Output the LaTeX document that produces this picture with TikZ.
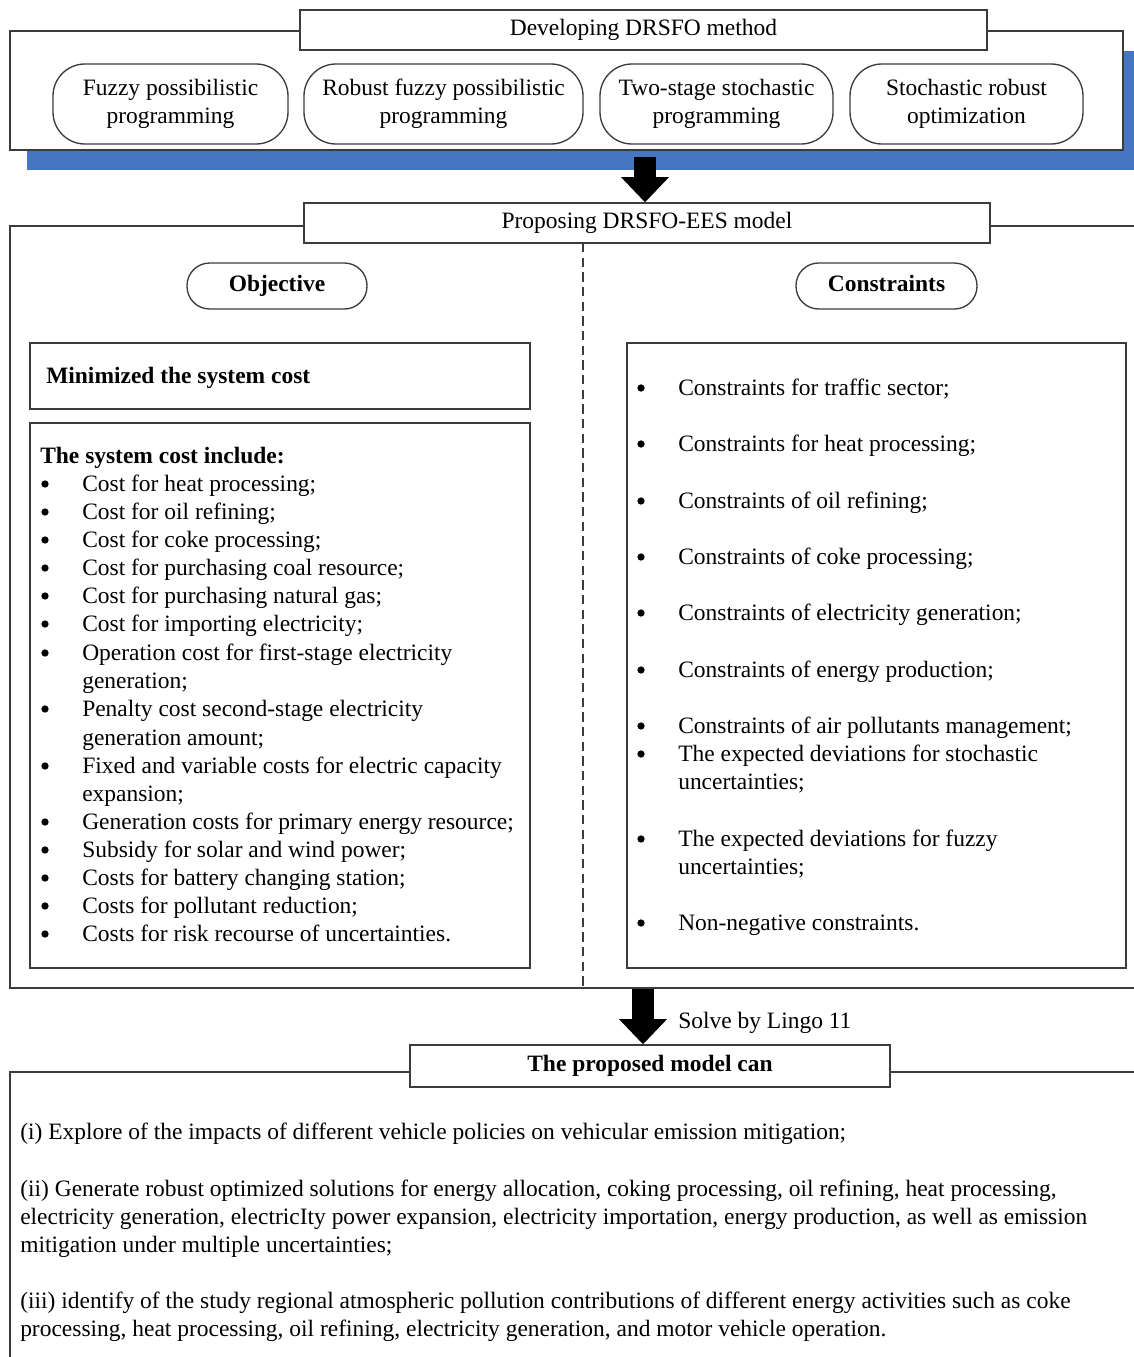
\documentclass[tikz,border=0pt]{standalone}
\usepackage{fontspec}
\setmainfont{Liberation Serif}
\usetikzlibrary{arrows.meta}
\definecolor{shadowblue}{RGB}{70,117,193}
\definecolor{lc}{RGB}{60,60,60}
\newcommand\mainfs{\fontsize{17.6}{21}\selectfont}
\tikzset{
  box/.style={draw=lc, line width=1pt, fill=white, inner sep=0pt, align=center},
  pill/.style={box, rounded corners=24pt},
  smallpill/.style={box, rounded corners=17pt, font=\mainfs\bfseries, text height=12pt, text depth=4pt},
  onetext/.style={text height=12pt, text depth=4pt},
  txt/.style={anchor=base west, inner sep=0pt},
  btxt/.style={txt, font=\mainfs\bfseries},
  bul/.style={circle, fill=black, inner sep=0pt, minimum size=5.5pt},
  frame/.style={draw=lc, line width=1pt},
  bigarrow/.style={line width=16pt, -{Triangle[width=35pt,length=19pt]}},
}
\begin{document}
\begin{tikzpicture}[x=0.75pt,y=-0.75pt,font=\mainfs]
\useasboundingbox (0,0) rectangle (1134,1357);
\clip (0,0) rectangle (1134,1357);
\fill[white] (0,0) rectangle (1134,1357);

% ---- Stage 1: method
\fill[shadowblue] (27,51) rectangle (1140,170);
\node[box, minimum width=834.75pt, minimum height=89.25pt] (ob1) at (566.5,90.5) {};
\node[box, onetext, minimum width=515.25pt, minimum height=30pt] (h1) at (643.5,30) {Developing DRSFO method};
\node[pill, minimum width=176.25pt, minimum height=60pt] (m1) at (170.5,104) {Fuzzy possibilistic\\programming};
\node[pill, minimum width=209.25pt, minimum height=60pt] (m2) at (443.5,104) {Robust fuzzy possibilistic\\programming};
\node[pill, minimum width=174.75pt, minimum height=60pt] (m3) at (716.5,104) {Two-stage stochastic\\programming};
\node[pill, minimum width=174.75pt, minimum height=60pt] (m4) at (966.5,104) {Stochastic robust\\optimization};

% ---- Stage 2: model
\draw[frame] (1140,226) -- (10,226) -- (10,988) -- (1140,988);
\node[box, onetext, minimum width=514.5pt, minimum height=30pt] (h2) at (647,223) {Proposing DRSFO-EES model};
\coordinate (a1s) at (645,157);
\draw[bigarrow] (a1s) -- (a1s |- h2.north);

\coordinate (d0) at (583,243);
\coordinate (d1) at (583,988);
\coordinate (d2) at (608,988);
\draw[lc, line width=1pt, dash pattern=on 7pt off 4pt] (d0) -- (d1) -- (d2);

\node[smallpill, minimum width=135pt, minimum height=34.5pt] (obj) at (277,286) {Objective};
\node[smallpill, minimum width=135.75pt, minimum height=34.5pt] (con) at (886.5,286) {Constraints};

\node[box, minimum width=375pt, minimum height=49.5pt] (minbox) at (280,376) {};
\node[btxt] (mintxt) at (46,383) {Minimized the system cost};

\node[box, minimum width=375pt, minimum height=408.75pt] (costbox) at (280,695.5) {};
\node[btxt] (costhead) at (40,463) {The system cost include:};
\foreach \ty/\tx [count=\i] in {
  491/{Cost for heat processing;},
  519/{Cost for oil refining;},
  547/{Cost for coke processing;},
  575/{Cost for purchasing coal resource;},
  603/{Cost for purchasing natural gas;},
  631/{Cost for importing electricity;},
  660/{Operation cost for first-stage electricity},
  688/{generation;},
  716/{Penalty cost second-stage electricity},
  745/{generation amount;},
  773/{Fixed and variable costs for electric capacity},
  801/{expansion;},
  829/{Generation costs for primary energy resource;},
  857/{Subsidy for solar and wind power;},
  885/{Costs for battery changing station;},
  913/{Costs for pollutant reduction;},
  941/{Costs for risk recourse of uncertainties.}}
  \node[txt] (cl\i) at (82,\ty) {\tx};
\foreach \ty [count=\i] in {491,519,547,575,603,631,660,716,773,829,857,885,913,941}
  \node[bul] (cb\i) at (45,\ty-7) {};

\node[box, minimum width=374.25pt, minimum height=468.75pt] (conbox) at (876.5,655.5) {};
\foreach \ty/\tx [count=\i] in {
  395/{Constraints for traffic sector;},
  451/{Constraints for heat processing;},
  508/{Constraints of oil refining;},
  564/{Constraints of coke processing;},
  620/{Constraints of electricity generation;},
  677/{Constraints of energy production;},
  733/{Constraints of air pollutants management;},
  761/{The expected deviations for stochastic},
  789/{uncertainties;},
  846/{The expected deviations for fuzzy},
  874/{uncertainties;},
  930/{Non-negative constraints.}}
  \node[txt] (rl\i) at (678,\ty) {\tx};
\foreach \ty [count=\i] in {395,451,508,564,620,677,733,761,846,930}
  \node[bul] (rb\i) at (641,\ty-7) {};

% ---- Stage 3: results
\draw[frame] (1140,1072) -- (10,1072) -- (10,1360);
\node[box, onetext, minimum width=360pt, minimum height=31.5pt, font=\mainfs\bfseries] (h3) at (650,1066) {The proposed model can};
\coordinate (a2s) at (643,989);
\draw[bigarrow] (a2s) -- (a2s |- h3.north);
\node[txt] (solve) at (678,1028) {Solve by Lingo 11};

\foreach \ty/\tx [count=\i] in {
  1139/{(i) Explore of the impacts of different vehicle policies on vehicular emission mitigation;},
  1196/{(ii) Generate robust optimized solutions for energy allocation, coking processing, oil refining, heat processing,},
  1224/{electricity generation, electricIty power expansion, electricity importation, energy production, as well as emission},
  1252/{mitigation under multiple uncertainties;},
  1308/{(iii) identify of the study regional atmospheric pollution contributions of different energy activities such as coke},
  1336/{processing, heat processing, oil refining, electricity generation, and motor vehicle operation.}}
  \node[txt] (bl\i) at (20,\ty) {\tx};
\end{tikzpicture}
\end{document}
